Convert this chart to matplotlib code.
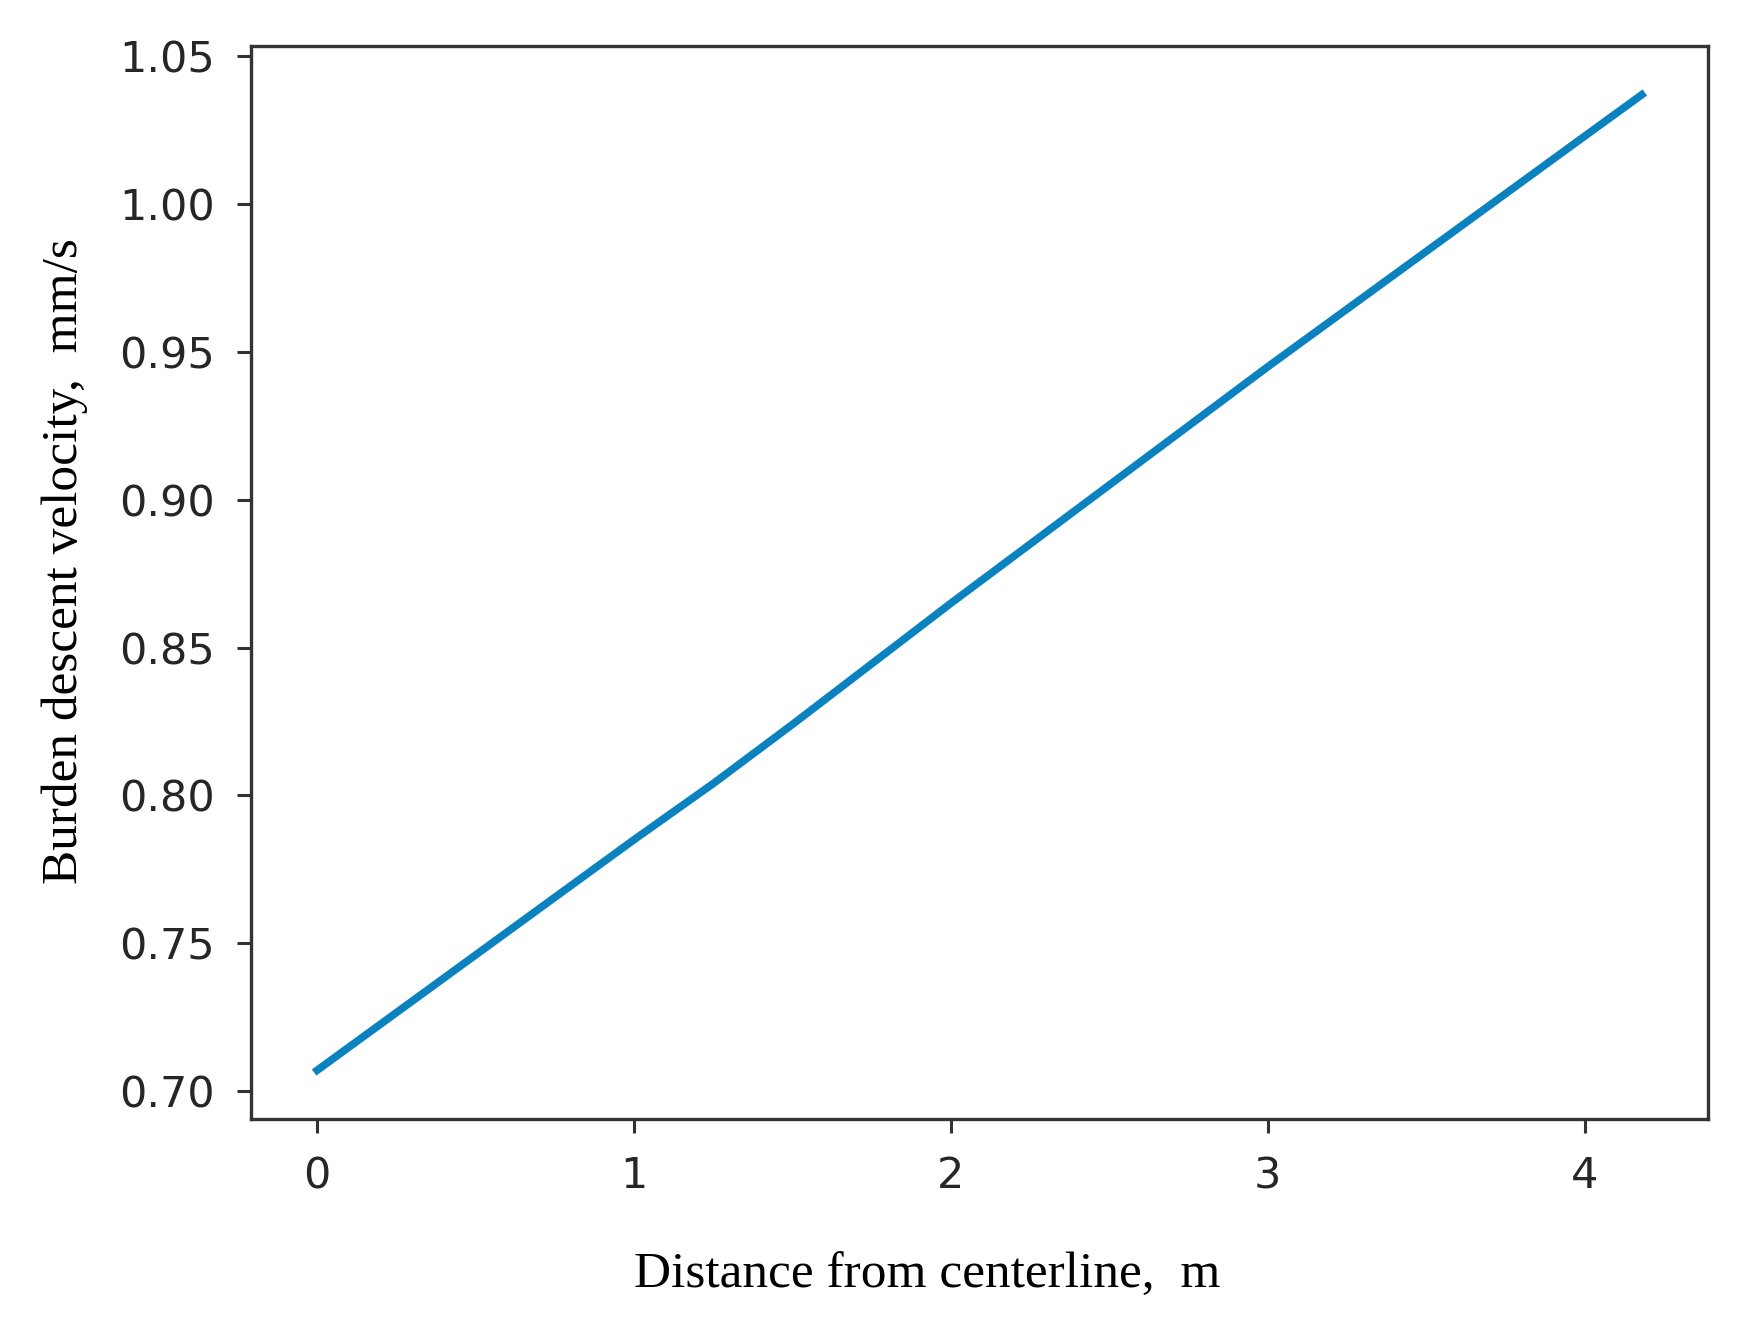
import matplotlib
matplotlib.use("Agg")
import matplotlib.pyplot as plt

# Data
distance = [0.0, 0.5, 1.0, 1.25, 1.5, 2.0, 2.5, 3.0, 3.5, 4.0, 4.18]
velocity = [0.707, 0.746, 0.785, 0.804, 0.824, 0.865, 0.905, 0.945, 0.984, 1.023, 1.037]
xticks = [0, 1, 2, 3, 4]
yticks = [0.70, 0.75, 0.80, 0.85, 0.90, 0.95, 1.00, 1.05]
xlabel = "Distance from centerline,  m"
ylabel = "Burden descent velocity,  mm/s"

fig = plt.figure(figsize=(17.55, 13.29), dpi=100)
ax = fig.add_axes([0.1430, 0.158, 0.8302, 0.8074])

ax.plot(distance, velocity, color="#0b82c0", linewidth=5.5)

ax.set_xticks(xticks)
ax.set_yticks(yticks)
ax.set_yticklabels([f"{v:.2f}" for v in yticks])

for s in ax.spines.values():
    s.set_linewidth(2.4)
    s.set_color("#333333")

ax.tick_params(axis="both", length=10, width=2.2, color="#333333",
               labelsize=31, labelcolor="#262626", pad=16)

ax.set_xlabel(xlabel, fontsize=37, family="Liberation Serif", color="black")
ax.set_ylabel(ylabel, fontsize=37, family="Liberation Serif", color="black")
ax.xaxis.set_label_coords(0.464, -0.146)
ax.xaxis.label.set_va("center")
ax.yaxis.set_label_coords(-0.128, 0.52)
ax.yaxis.label.set_va("center")

fig.savefig("out.png", dpi=100)
